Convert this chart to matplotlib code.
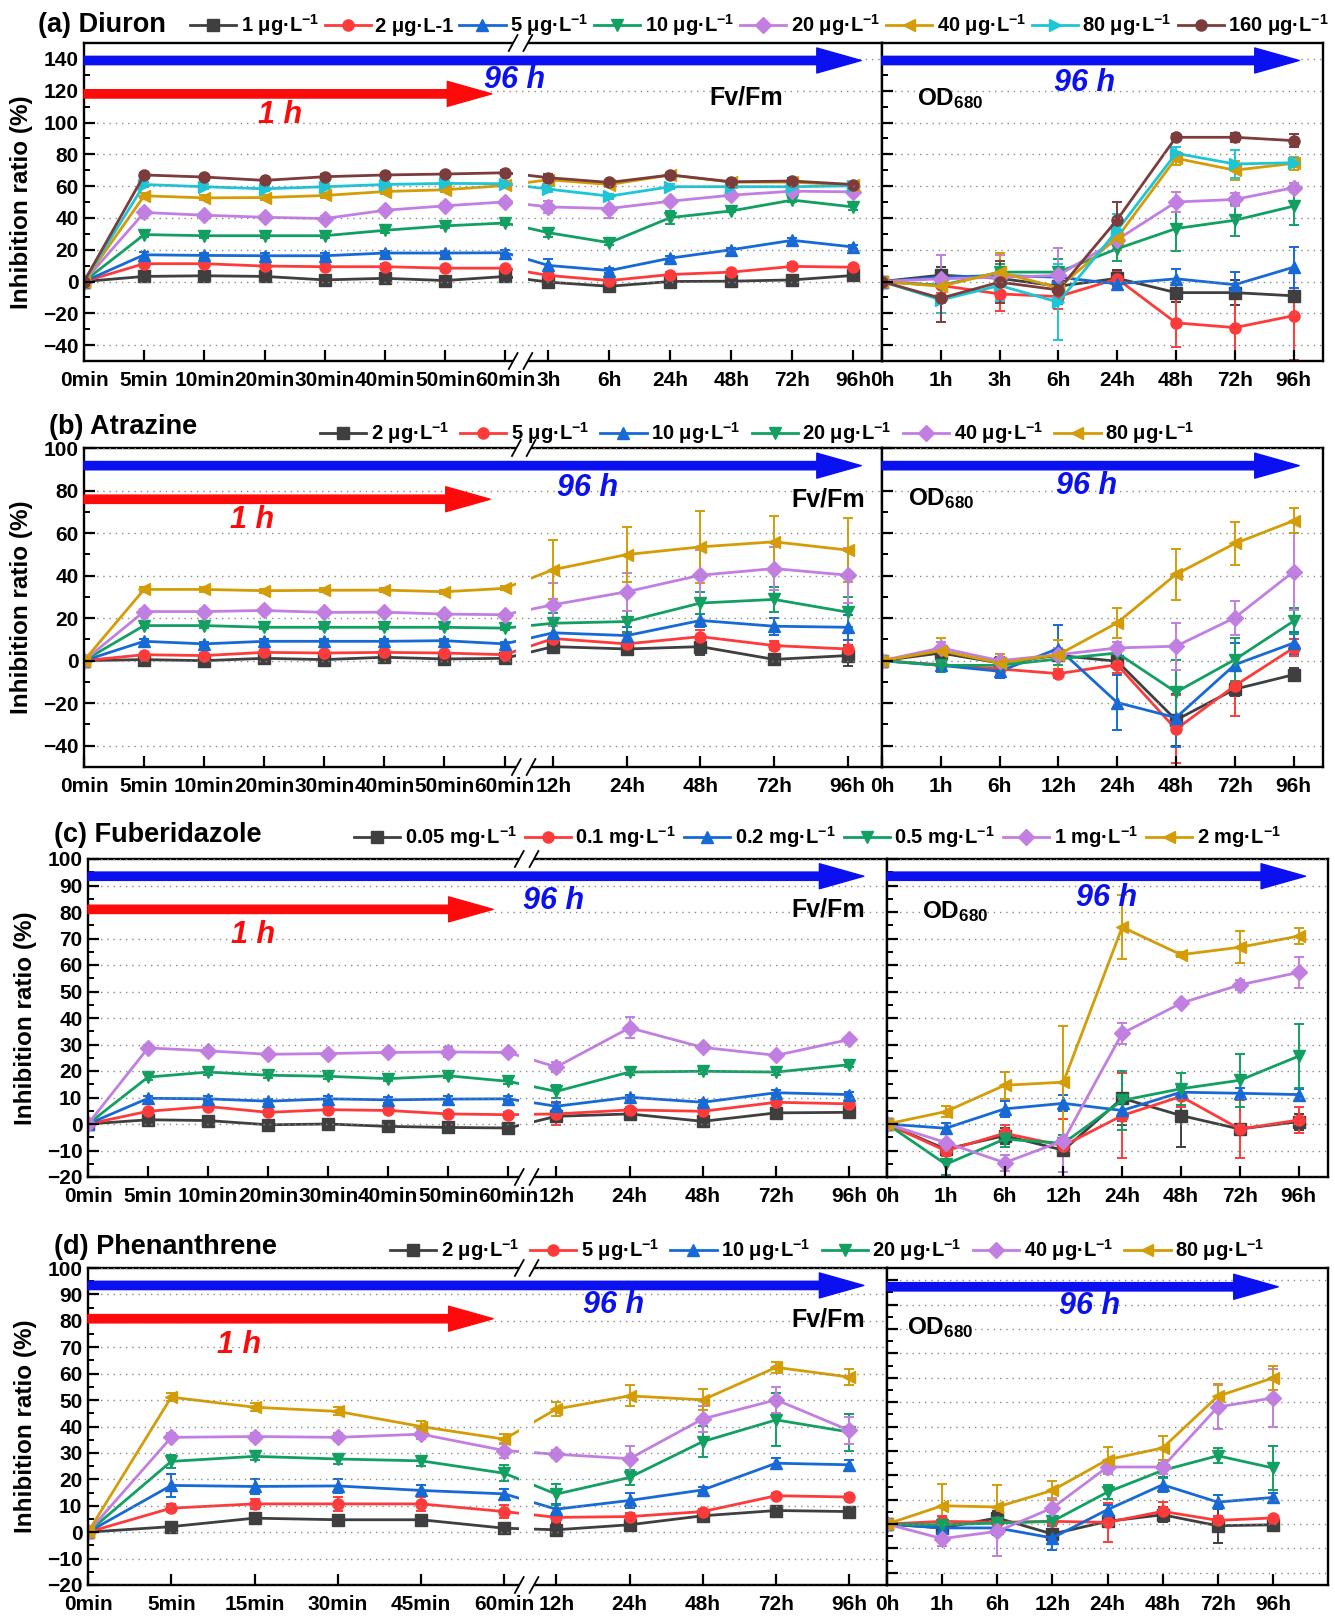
import numpy as np
import matplotlib
matplotlib.use("Agg")
import matplotlib.pyplot as plt
import matplotlib.transforms as mtransforms
from matplotlib.patches import FancyArrowPatch, Rectangle
from matplotlib.lines import Line2D
from matplotlib.ticker import MultipleLocator

plt.rcParams['font.family'] = ['Liberation Sans', 'DejaVu Sans']
plt.rcParams['font.weight'] = 'bold'
plt.rcParams['mathtext.fontset'] = 'custom'
plt.rcParams['mathtext.rm'] = 'Liberation Sans:bold'
plt.rcParams['mathtext.bf'] = 'Liberation Sans:bold'
plt.rcParams['mathtext.it'] = 'Liberation Sans:bold:italic'

# ---------------- data ----------------
# (a) Diuron
A_title = '(a) Diuron'
A_min = ['0min', '5min', '10min', '20min', '30min', '40min', '50min', '60min']
A_hr = ['3h', '6h', '24h', '48h', '72h', '96h']
A_od_lab = ['0h', '1h', '3h', '6h', '24h', '48h', '72h', '96h']
A_conc = ['1 μg·L$^{-1}$', '2 μg·L-1', '5 μg·L$^{-1}$', '10 μg·L$^{-1}$',
          '20 μg·L$^{-1}$', '40 μg·L$^{-1}$', '80 μg·L$^{-1}$', '160 μg·L$^{-1}$']
A_fv = [
    [0, 3.2, 3.6, 3.2, 1.0, 2.0, 0.6, 3.2, -0.4, -3.0, 0.0, 0.2, 1.0, 3.8],
    [0, 11.2, 11.2, 9.7, 9.3, 9.3, 8.4, 8.4, 3.8, 0.6, 4.4, 5.9, 9.5, 9.0],
    [0, 16.8, 16.4, 16.2, 16.2, 17.9, 17.9, 18.1, 10.1, 6.9, 14.7, 20.0, 25.9, 21.7],
    [0, 29.5, 28.8, 28.8, 28.8, 32.2, 35.0, 36.8, 30.7, 24.4, 40.2, 44.4, 51.2, 46.9],
    [0, 43.4, 41.7, 40.4, 39.6, 44.8, 47.6, 50.1, 46.9, 45.9, 50.5, 54.3, 56.8, 56.4],
    [0, 53.9, 52.6, 52.8, 54.1, 56.6, 57.7, 60.4, 64.0, 61.0, 67.0, 62.5, 62.5, 60.6],
    [0, 61.0, 59.6, 58.3, 59.6, 61.0, 61.7, 61.5, 58.1, 53.7, 59.6, 59.6, 59.6, 60.2],
    [0, 67.0, 65.7, 63.6, 65.9, 67.0, 67.6, 68.4, 65.3, 62.3, 67.0, 62.7, 63.2, 61.0],
]
A_fv_err = [
    [0, 1.5, 1.5, 1.5, 1.5, 1.5, 1.5, 1.5, 4, 2, 1.5, 1, 1, 2],
    [0, 1.5, 1.5, 1.5, 1.5, 1.5, 1.5, 1.5, 2, 1.5, 1.5, 1, 2, 1.5],
    [0, 1.5, 1.5, 1.5, 1.5, 1.5, 1.5, 1.5, 4, 1.5, 1.5, 1, 1.5, 1.5],
    [0, 1.5, 1.5, 1.5, 1.5, 1.5, 1.5, 1.5, 3, 1.5, 4, 1, 1.5, 2],
    [0, 2, 1.5, 1.5, 1.5, 1.5, 1.5, 2, 4, 6, 1.5, 2.5, 1.5, 1.5],
    [0, 1.5, 1.5, 1.5, 1.5, 1.5, 1.5, 1.5, 2, 1.5, 1.5, 1, 1.5, 1.5],
    [0, 1.5, 1.5, 1.5, 1.5, 1.5, 1.5, 1.5, 2, 1.5, 1.5, 1, 1.5, 2],
    [0, 1.5, 1.5, 1.5, 1.5, 1.5, 1.5, 1.5, 2, 1.5, 1.5, 1, 2, 1.5],
]
A_od = [
    [0, 4, 2, -3, 2, -7, -7, -9],
    [0, -2.5, -7.8, -9.5, 1.7, -26, -29, -21.5],
    [0, 2.7, 3.8, 2.7, -1.5, 1.7, -2, 9],
    [0, -2.5, 5.9, 5.9, 20.6, 33.3, 38.5, 47.4],
    [0, 1.7, 2.7, 3.8, 26.3, 50, 51.6, 59],
    [0, -3, 5.9, -4, 27.6, 77.5, 70, 74.3],
    [0, -11.6, -2.5, -13, 32.2, 80.6, 73.9, 74.7],
    [0, -10.5, -0.4, -5.3, 38.9, 90.7, 90.7, 88.6],
]
A_od_err = [
    [0, 5, 4, 6, 5, 6, 8, 3],
    [0, 5, 11, 8, 4, 15, 25, 28],
    [0, 3, 4, 5, 4, 6, 8, 13],
    [0, 6, 5, 8, 8, 14, 10, 12],
    [0, 15, 14, 17, 6, 6, 4, 3],
    [0, 5, 12, 6, 8, 4, 6, 4],
    [0, 8, 10, 24, 10, 4, 9, 3],
    [0, 15, 13, 9, 11, 2, 3, 4],
]

# (b) Atrazine
B_title = '(b) Atrazine'
B_min = ['0min', '5min', '10min', '20min', '30min', '40min', '50min', '60min']
B_hr = ['12h', '24h', '48h', '72h', '96h']
B_od_lab = ['0h', '1h', '6h', '12h', '24h', '48h', '72h', '96h']
B_conc = ['2 μg·L$^{-1}$', '5 μg·L$^{-1}$', '10 μg·L$^{-1}$', '20 μg·L$^{-1}$',
          '40 μg·L$^{-1}$', '80 μg·L$^{-1}$']
B_fv = [
    [0, 0.5, 0, 1.1, 0.5, 1.6, 0.8, 1.1, 6.6, 5.5, 6.6, 0.6, 2.4],
    [0, 2.8, 2.4, 3.9, 3.6, 3.9, 3.6, 2.8, 10.4, 7.9, 11.3, 7.1, 5.5],
    [0, 9.1, 7.9, 9.1, 9.1, 9.1, 9.4, 7.9, 13.1, 11.8, 18.9, 16.2, 15.7],
    [0, 16.5, 16.5, 15.7, 15.7, 15.7, 15.7, 15.3, 17.6, 18.4, 27.1, 28.8, 22.8],
    [0, 23.1, 23.1, 23.6, 22.7, 22.8, 21.9, 21.6, 26.3, 32.4, 40.2, 43.3, 40.2],
    [0, 33.5, 33.5, 32.9, 33.1, 33.2, 32.4, 34.0, 42.8, 49.9, 53.5, 55.9, 52.0],
]
B_fv_err = [
    [0, 1, 1, 1, 1, 1, 1, 1, 2, 3, 4, 1, 5],
    [0, 1, 1, 1, 1, 1, 1, 1, 2, 5, 3, 2, 4],
    [0, 1, 1, 1, 1, 1, 1, 1, 3, 4, 3, 4, 6],
    [0, 1, 1, 1, 1, 1, 1, 1, 5, 5, 5, 6, 7],
    [0, 1, 1, 1, 1, 1, 1, 1, 10, 9, 12, 10, 13],
    [0, 1, 1, 1, 1, 1, 1, 1, 14, 13, 17, 12, 15],
]
B_od = [
    [0, 3.6, -1.1, 2.5, -0.3, -27.9, -13.4, -6.6],
    [0, -1.9, -3.9, -6.1, -1.9, -32.3, -11.8, 6.0],
    [0, -2.2, -5.0, 5.7, -19.7, -26.8, -1.9, 8.3],
    [0, -2.2, -2.2, 0.8, 3.6, -14.8, 0.5, 18.6],
    [0, 6.0, 0, 2.8, 6.0, 6.8, 20.2, 41.9],
    [0, 4.7, -1.1, 2.8, 17.8, 40.6, 55.1, 65.8],
]
B_od_err = [
    [0, 3, 3, 2, 2, 12, 3, 3],
    [0, 3, 3, 2, 4, 16, 14, 4],
    [0, 3, 3, 11, 13, 14, 10, 5],
    [0, 3, 3, 3, 3, 15, 10, 6],
    [0, 3, 3, 3, 3, 11, 8, 18],
    [0, 6, 4, 7, 7, 12, 10, 6],
]

# (c) Fuberidazole
C_title = '(c) Fuberidazole'
C_min = ['0min', '5min', '10min', '20min', '30min', '40min', '50min', '60min']
C_hr = ['12h', '24h', '48h', '72h', '96h']
C_od_lab = ['0h', '1h', '6h', '12h', '24h', '48h', '72h', '96h']
C_conc = ['0.05 mg·L$^{-1}$', '0.1 mg·L$^{-1}$', '0.2 mg·L$^{-1}$', '0.5 mg·L$^{-1}$',
          '1 mg·L$^{-1}$', '2 mg·L$^{-1}$']
C_fv = [
    [0, 1.6, 1.3, -0.3, 0, -0.9, -1.3, -1.5, 2.9, 3.8, 1.0, 4.2, 4.4],
    [0, 4.8, 6.6, 4.4, 5.4, 5.1, 3.8, 3.5, 3.8, 5.3, 4.8, 8.2, 7.6],
    [0, 9.7, 9.5, 8.6, 9.5, 9.1, 9.4, 9.5, 6.7, 10.1, 8.2, 11.8, 11.1],
    [0, 17.7, 19.6, 18.4, 18.0, 17.1, 18.2, 16.1, 12.3, 19.6, 19.9, 19.6, 22.4],
    [0, 28.7, 27.6, 26.3, 26.6, 27.0, 27.2, 27.0, 21.5, 36.3, 28.9, 25.9, 31.9],
    None,
]
C_fv_err = [
    [0, 1, 1, 1, 1, 1, 1, 1, 2, 2, 1, 1, 1],
    [0, 1, 1, 1, 1, 1, 1, 1, 4, 1, 1, 1, 1],
    [0, 1, 1, 1, 1, 1, 1, 1, 1.5, 1, 1, 1, 1],
    [0, 1, 1, 1, 1, 1, 1, 1, 2.5, 1, 1, 1, 1],
    [0, 1, 1, 1, 1, 1, 2, 1, 2, 4, 1, 1, 1],
    None,
]
C_od = [
    [0, -9.5, -4.4, -9.9, 9.7, 3.2, -1.9, 0.9],
    [0, -10.1, -3.5, -8.2, 3.2, 10.4, -1.9, 1.5],
    [0, -1.6, 5.7, 7.8, 5.1, 12.0, 11.6, 11.1],
    [0, -15.2, -5.7, -7.3, 8.9, 13.3, 16.5, 25.6],
    [0, -7.0, -14.6, -6.3, 34.2, 45.6, 52.5, 57.2],
    [0, 4.7, 14.6, 15.8, 74.3, 63.9, 66.7, 70.9],
]
C_od_err = [
    [0, 2, 3, 2, 10, 12, 2, 3],
    [0, 2, 3, 10, 16, 4, 11, 5],
    [0, 2, 3, 3, 4, 2, 2, 2],
    [0, 4, 3, 3, 11, 6, 10, 12],
    [0, 4, 3, 12, 4, 1, 2, 6],
    [0, 2, 5, 21, 12, 1, 6, 3],
]

# (d) Phenanthrene
D_title = '(d) Phenanthrene'
D_min = ['0min', '5min', '15min', '30min', '45min', '60min']
D_hr = ['12h', '24h', '48h', '72h', '96h']
D_od_lab = ['0h', '1h', '6h', '12h', '24h', '48h', '72h', '96h']
D_conc = ['2 μg·L$^{-1}$', '5 μg·L$^{-1}$', '10 μg·L$^{-1}$', '20 μg·L$^{-1}$',
          '40 μg·L$^{-1}$', '80 μg·L$^{-1}$']
D_fv = [
    [0, 2.1, 5.3, 4.7, 4.7, 1.5, 0.9, 2.8, 6.2, 8.2, 7.8],
    [0, 9.1, 10.7, 10.7, 10.7, 7.8, 5.6, 5.9, 7.8, 13.8, 13.3],
    [0, 17.7, 17.3, 17.5, 15.8, 14.5, 8.7, 12.0, 16.0, 26.1, 25.5],
    [0, 26.8, 28.7, 27.7, 27.0, 22.3, 14.4, 20.7, 34.3, 42.5, 37.9],
    [0, 35.9, 36.2, 35.9, 37.1, 30.9, 29.5, 27.8, 42.9, 50.1, 38.5],
    [0, 51.1, 47.3, 45.7, 40.0, 35.2, 46.6, 51.6, 50.1, 62.4, 58.7],
]
D_fv_err = [
    [0, 1, 1.5, 1.5, 1.5, 1.5, 2.5, 1.5, 1, 1, 1],
    [0, 1.5, 2, 2.5, 2.5, 2.5, 1.5, 1.5, 1, 1, 1],
    [0, 4.5, 3, 2.5, 2, 2, 2, 3, 1, 2, 2],
    [0, 2.5, 1.5, 2, 2, 3, 4, 3, 6, 10, 7],
    [0, 1.5, 1.5, 1.5, 2, 3, 1.5, 5, 5, 5, 5],
    [0, 1.5, 1.5, 1.5, 2, 2, 2.5, 4, 4, 2, 3],
]
D_od = [
    [0, -1.6, 2.5, -4.1, 1.1, 3.8, -0.7, -0.3],
    [0, 1.1, 0.7, 1.1, 0.7, 5.2, 1.5, 2.5],
    [0, -1.6, -1.6, -5.7, 5.9, 16.1, 9.0, 10.9],
    [0, -0.3, 0.4, 1.1, 13.1, 22.0, 28.0, 23.0],
    [0, -6.0, -3.0, 6.6, 23.4, 23.4, 48.0, 51.7],
    [0, 7.5, 7.0, 13.8, 26.4, 31.2, 52.4, 59.9],
]
D_od_err = [
    [0, 2, 3, 2, 2, 3, 7, 1],
    [0, 2, 3, 2, 8, 4, 2, 1],
    [0, 3, 3, 5, 2, 3, 3, 2],
    [0, 2, 3, 4, 3, 3, 3, 9],
    [0, 3, 10, 4, 3, 3, 9, 12],
    [0, 9, 9, 4, 5, 5, 5, 5],
]

# ---------------- styles ----------------
COL8 = ['#3f3f3f', '#ff3a3a', '#1769d6', '#12a062', '#c27fe2', '#d49c06', '#1cc6d6', '#7c3c3c']
MRK8 = ['s', 'o', '^', 'v', 'D', '<', '>', 'o']
COL6 = ['#3f3f3f', '#ff3a3a', '#1769d6', '#12a062', '#c27fe2', '#d49c06']
MRK6 = ['s', 'o', '^', 'v', 'D', '<']
BLUE = '#0a10f0'
RED = '#ff0a0a'

TICK_FS = 15
LEG_FS = 14.5
TITLE_FS = 19.5
YLAB_FS = 17.5
BIG_FS = 22
FV_FS = 18
OD_FS = 17.5

W, H = 1335, 1616
fig = plt.figure(figsize=(W / 100, H / 100), dpi=100)


def rect(l, r, t, b):
    return [l / W, 1 - b / H, (r - l) / W, (b - t) / H]


def arrow(ax, x0, x1, y, color):
    tr = mtransforms.blended_transform_factory(ax.transAxes, ax.transData)
    p = FancyArrowPatch((x0, y), (x1, y), transform=tr,
                        arrowstyle='simple,head_length=1.6,head_width=0.9,tail_width=0.3',
                        mutation_scale=20, color=color, zorder=6,
                        shrinkA=0, shrinkB=0, clip_on=False)
    ax.add_patch(p)


def add_break(ax, xb):
    d = 0.0092
    ax.add_patch(Rectangle((xb - d, 0.003), 2 * d, 0.994, transform=ax.transAxes,
                           fc='white', ec='none', zorder=2.2))
    for yy in (0, 1):
        ax.plot([xb - d, xb + d], [yy, yy], transform=ax.transAxes, color='white',
                lw=3, zorder=3, clip_on=False, solid_capstyle='butt')
        for s in (-d, d):
            ax.plot([xb + s - 0.0055, xb + s + 0.0055], [yy - 0.025, yy + 0.025],
                    transform=ax.transAxes, color='black', lw=1.3, zorder=4, clip_on=False)


def style_axis(ax, ylim, major, labels=True):
    ax.set_ylim(*ylim)
    ax.yaxis.set_major_locator(MultipleLocator(major))
    ax.yaxis.set_minor_locator(MultipleLocator(major / 2))
    ax.tick_params(axis='both', which='major', direction='in', length=8, width=1.6,
                   labelsize=TICK_FS, pad=4)
    ax.tick_params(axis='x', which='major', pad=7.5)
    ax.tick_params(axis='y', which='minor', direction='in', length=4.5, width=1.4)
    ax.tick_params(axis='x', which='minor', bottom=False)
    if not labels:
        ax.tick_params(axis='y', labelleft=False)
    ax.set_axisbelow(False)
    ax.grid(axis='y', which='major', linestyle=(0, (1, 3.5)), color='#8a8a8a', lw=1.0)
    for s in ax.spines.values():
        s.set_linewidth(1.7)


def draw_panel(cfg, title, mins, hrs, odlab, conc, fv, fv_err, od, od_err, cols, mrks):
    axL = fig.add_axes(rect(cfg['l'], cfg['d'], cfg['t'], cfg['b']))
    axR = fig.add_axes(rect(cfg['d'], cfg['r'], cfg['t'], cfg['b']))
    xm = np.linspace(0, cfg['mend'], len(mins))
    xh = np.linspace(cfg['h0'], cfg['h1'], len(hrs))
    x = np.concatenate([xm, xh])
    xr = np.arange(len(odlab))
    handles = []
    for i in range(len(conc)):
        c, m = cols[i], mrks[i]
        kw = dict(color=c, marker=m, ms=8, mfc=c, mec=c, lw=2.0, elinewidth=1.4,
                  capsize=3.8, capthick=1.4, zorder=2)
        if fv[i] is not None:
            axL.errorbar(x, fv[i], yerr=fv_err[i], **kw)
        axR.errorbar(xr, od[i], yerr=od_err[i], **kw)
        handles.append(Line2D([], [], color=c, marker=m, ms=8, lw=2.0))
    axL.set_xlim(0, 1)
    axL.set_xticks(x)
    axL.set_xticklabels(mins + hrs)
    style_axis(axL, cfg['ylim'], cfg['major'])
    add_break(axL, cfg['brk'])
    axR.set_xlim(0, cfg['rx'])
    axR.set_xticks(xr)
    axR.set_xticklabels(odlab)
    style_axis(axR, cfg['ylimR'], cfg['major'], labels=False)

    # arrows and annotations
    arrow(axL, 0.0, cfg['bl_end'], cfg['bl_y'], BLUE)
    arrow(axL, 0.0, cfg['rd_end'], cfg['rd_y'], RED)
    arrow(axR, 0.0, cfg['br_end'], cfg['br_y'], BLUE)
    trL = mtransforms.blended_transform_factory(axL.transAxes, axL.transData)
    trR = mtransforms.blended_transform_factory(axR.transAxes, axR.transData)
    axL.text(cfg['t96'][0], cfg['t96'][1], '96 h', transform=trL, color=BLUE,
             fontsize=BIG_FS, fontweight='bold', style='italic', ha='center', va='center', zorder=7)
    axL.text(cfg['t1'][0], cfg['t1'][1], '1 h', transform=trL, color=RED,
             fontsize=BIG_FS, fontweight='bold', style='italic', ha='center', va='center', zorder=7)
    axL.text(cfg['tfv'][0], cfg['tfv'][1], 'Fv/Fm', transform=trL, color='black',
             fontsize=FV_FS, fontweight='bold', ha='center', va='center', zorder=7)
    axR.text(cfg['tr96'][0], cfg['tr96'][1], '96 h', transform=trR, color=BLUE,
             fontsize=BIG_FS, fontweight='bold', style='italic', ha='center', va='center', zorder=7)
    axR.text(cfg['tod'][0], cfg['tod'][1], 'OD$_{680}$', transform=trR, color='black',
             fontsize=OD_FS, fontweight='bold', ha='left', va='center', zorder=7)

    # title, ylabel, legend
    fig.text(cfg['title'][0] / W, 1 - cfg['title'][1] / H, title, fontsize=TITLE_FS,
             fontweight='bold', ha='left', va='center')
    fig.text(cfg['ylab_x'] / W, 1 - (cfg['t'] + cfg['b']) / 2 / H, 'Inhibition ratio (%)',
             rotation=90, fontsize=YLAB_FS, fontweight='bold', ha='center', va='center')
    fig.legend(handles, conc, loc='center left',
               bbox_to_anchor=(cfg['leg'][0] / W, 1 - cfg['leg'][1] / H),
               ncol=len(conc), frameon=False, fontsize=LEG_FS, handlelength=2.3,
               handletextpad=0.22, columnspacing=cfg['cs'], borderpad=0, borderaxespad=0)


CFG_A = dict(l=84, d=882, r=1323, t=43, b=361, mend=0.528, h0=0.582, h1=0.964, brk=0.547,
             ylim=(-50, 150), ylimR=(-50, 150), major=20, rx=7.5,
             bl_y=139, bl_end=0.974, rd_y=118, rd_end=0.511, br_y=139, br_end=0.946,
             t96=(0.54, 127), t1=(0.246, 105), tfv=(0.83, 116), tr96=(0.46, 125),
             tod=(0.08, 115), title=(38, 25), ylab_x=22, leg=(190, 25), cs=0.28)
CFG_B = dict(l=84, d=882, r=1323, t=448, b=767, mend=0.527, h0=0.588, h1=0.957, brk=0.551,
             ylim=(-50, 100), ylimR=(-50, 100), major=20, rx=7.5,
             bl_y=91.7, bl_end=0.974, rd_y=75.9, rd_end=0.509, br_y=91.7, br_end=0.946,
             t96=(0.631, 81), t1=(0.211, 66), tfv=(0.932, 76), tr96=(0.463, 82),
             tod=(0.059, 76), title=(49, 427), ylab_x=22, leg=(320, 433), cs=0.55)
CFG_C = dict(l=88, d=887, r=1328, t=859, b=1177, mend=0.526, h0=0.586, h1=0.953, brk=0.549,
             ylim=(-20, 100), ylimR=(-20, 100), major=10, rx=7.5,
             bl_y=93.5, bl_end=0.971, rd_y=81, rd_end=0.507, br_y=93.5, br_end=0.949,
             t96=(0.583, 84), t1=(0.207, 71.5), tfv=(0.927, 81), tr96=(0.499, 85.4),
             tod=(0.079, 80), title=(54, 835), ylab_x=26, leg=(354, 837), cs=0.4)
CFG_D = dict(l=88, d=887, r=1328, t=1268, b=1585, mend=0.521, h0=0.586, h1=0.953, brk=0.549,
             ylim=(-20, 100), ylimR=(-25, 105), major=10, rx=8.0,
             bl_y=93.4, bl_end=0.971, rd_y=80.8, rd_end=0.507, br_y=97.3, br_end=0.887,
             t96=(0.658, 86), t1=(0.189, 71), tfv=(0.926, 80.4), tr96=(0.46, 89.3),
             tod=(0.045, 80.4), title=(54, 1247), ylab_x=26, leg=(390, 1250), cs=0.55)

draw_panel(CFG_A, A_title, A_min, A_hr, A_od_lab, A_conc, A_fv, A_fv_err, A_od, A_od_err, COL8, MRK8)
draw_panel(CFG_B, B_title, B_min, B_hr, B_od_lab, B_conc, B_fv, B_fv_err, B_od, B_od_err, COL6, MRK6)
draw_panel(CFG_C, C_title, C_min, C_hr, C_od_lab, C_conc, C_fv, C_fv_err, C_od, C_od_err, COL6, MRK6)
draw_panel(CFG_D, D_title, D_min, D_hr, D_od_lab, D_conc, D_fv, D_fv_err, D_od, D_od_err, COL6, MRK6)

fig.savefig('out.png', dpi=100)
